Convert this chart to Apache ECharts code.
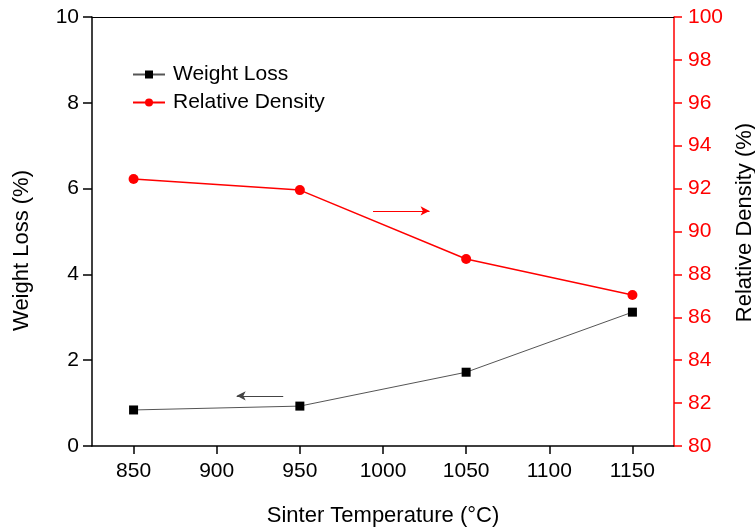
<!DOCTYPE html>
<html><head><meta charset="utf-8">
<script src="https://cdn.jsdelivr.net/npm/echarts@6/dist/echarts.min.js"></script>
<style>html,body{margin:0;padding:0;background:#fff}#c{width:755px;height:531px}</style>
</head><body><div id="c"></div>
<script>
const temperatures = [850, 950, 1050, 1150];
const weightLoss = [0.84, 0.93, 1.72, 3.12];
const relativeDensity = [92.45, 91.93, 88.72, 87.04];
const xTicks = [850, 900, 950, 1000, 1050, 1100, 1150];
const redArrow = [[994, 90.96], [1028, 90.96]];
const blackArrow = [[940, 1.17], [912, 1.17]];

const font = 'Liberation Sans, Arial, sans-serif';
const chart = echarts.init(document.getElementById('c'), null, {renderer: 'canvas'});
chart.setOption({
  animation: false,
  backgroundColor: '#fff',
  textStyle: {fontFamily: font},
  grid: {left: 92, right: 81, top: 17, bottom: 85, containLabel: false, outerBoundsMode: 'none'},
  legend: {
    orient: 'vertical', left: 127, top: 59, itemGap: 7,
    itemWidth: 32, itemHeight: 10,
    textStyle: {fontSize: 21, lineHeight: 21, color: '#000', fontFamily: font, padding: [0, 0, 0, 3]},
    data: ['Weight Loss', 'Relative Density']
  },
  xAxis: [{
    type: 'value', min: 825, max: 1175,
    name: 'Sinter Temperature (\u00B0C)', nameLocation: 'middle', nameGap: 59,
    nameTextStyle: {fontSize: 22, color: '#000', fontFamily: font},
    axisLine: {lineStyle: {color: '#000', width: 1.5}},
    axisTick: {show: true, length: 8, customValues: xTicks, lineStyle: {color: '#000', width: 1.5}},
    axisLabel: {customValues: xTicks, fontSize: 21, color: '#000', margin: 15, fontFamily: font,
      formatter: v => String(v)},
    splitLine: {show: false}
  }, {
    type: 'value', min: 825, max: 1175, position: 'top',
    axisLine: {show: true, onZero: false, lineStyle: {color: '#000', width: 1}},
    axisTick: {show: false}, axisLabel: {show: false}, splitLine: {show: false}
  }],
  yAxis: [{
    type: 'value', min: 0, max: 10, interval: 2,
    name: 'Weight Loss (%)', nameLocation: 'middle', nameGap: 59,
    nameTextStyle: {fontSize: 22, color: '#000', fontFamily: font, padding: [0, 38, 0, 0]},
    axisLine: {show: true, lineStyle: {color: '#000', width: 1.5}},
    axisTick: {show: true, length: 9, lineStyle: {color: '#000', width: 1.5}},
    axisLabel: {fontSize: 21, color: '#000', margin: 13, fontFamily: font},
    splitLine: {show: false}
  }, {
    type: 'value', min: 80, max: 100, interval: 2, position: 'right',
    name: 'Relative Density (%)', nameLocation: 'middle', nameGap: 55, nameRotate: 90,
    nameTextStyle: {fontSize: 22, color: '#000', fontFamily: font, padding: [0, 0, 0, 18]},
    axisLine: {show: true, lineStyle: {color: '#ff0000', width: 1.5}},
    axisTick: {show: true, length: 8, lineStyle: {color: '#ff0000', width: 1.5}},
    axisLabel: {fontSize: 21, color: '#ff0000', margin: 14, fontFamily: font},
    splitLine: {show: false}
  }],
  series: [{
    name: 'Weight Loss', type: 'line', xAxisIndex: 0, yAxisIndex: 0,
    data: temperatures.map((t, i) => [t, weightLoss[i]]),
    symbol: 'rect', symbolSize: 9,
    itemStyle: {color: '#000'},
    lineStyle: {color: '#555', width: 1},
    markLine: {
      silent: true, symbol: ['none', 'arrow'], symbolSize: [7, 9],
      label: {show: false},
      lineStyle: {color: '#444', width: 1, type: 'solid'},
      data: [[{coord: blackArrow[0]}, {coord: blackArrow[1]}]]
    }
  }, {
    name: 'Relative Density', type: 'line', xAxisIndex: 0, yAxisIndex: 1,
    data: temperatures.map((t, i) => [t, relativeDensity[i]]),
    symbol: 'circle', symbolSize: 10,
    itemStyle: {color: '#ff0000'},
    lineStyle: {color: '#ff0000', width: 1.5},
    markLine: {
      silent: true, symbol: ['none', 'arrow'], symbolSize: [7, 9],
      label: {show: false},
      lineStyle: {color: '#ff0000', width: 1, type: 'solid'},
      data: [[{coord: redArrow[0]}, {coord: redArrow[1]}]]
    }
  }]
});
</script></body></html>
